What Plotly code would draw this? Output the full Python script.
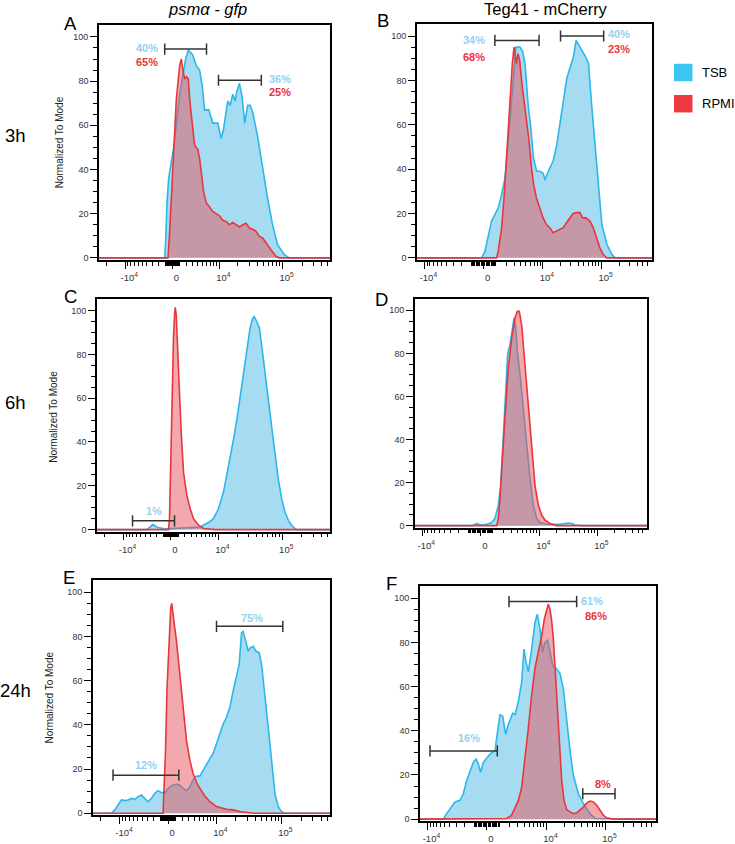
import math
import plotly.graph_objects as go

# ---------------------------------------------------------------------------
# DATA  (x = display channel of the biexponential axis, 0..232 across the plot;
#        y = % of mode)
# ---------------------------------------------------------------------------
A_TSB_CH = [0, 66, 67, 68.3, 70, 72, 75, 78, 81, 84, 87, 89.7, 91.7, 94, 97.7, 101, 103.7, 106,
            110.3, 114.3, 119.3, 122.7, 125, 129.3, 131.7, 134.3, 136.7, 138.3, 141, 143.7, 146.3,
            149.3, 151.7, 154.3, 159.3, 164.3, 169.3, 174.3, 179.3, 186, 191, 232]
A_TSB_Y = [0, 0, 8, 25, 36, 42, 50, 62, 74, 82, 90, 94, 93, 92, 87, 85, 78, 67,
           67, 61, 61, 54, 58, 71, 69, 74, 71, 75, 79, 73, 61,
           69, 69, 66, 55, 40, 27, 15, 6, 1.5, 0, 0]
A_RPMI_CH = [0, 69.3, 71, 74.3, 77.7, 81, 82.7, 84.3, 86, 87.7, 89.7, 91, 93.7, 96, 99.3, 101, 102.7,
             105, 107.7, 111, 114.3, 117.7, 121, 124.3, 127.7, 131, 134.3, 137.7, 141, 144.3, 147.7,
             151, 154.3, 157.7, 161, 164.3, 167.7, 172.7, 177.7, 181, 232]
A_RPMI_Y = [0, 0, 12, 39, 72, 87, 90, 85, 81, 82, 81, 72, 60, 51, 49, 45, 39,
            30, 25, 23, 21, 20, 19, 17, 16.5, 15, 16, 15, 14, 15, 15.7,
            13.5, 13, 12, 9.7, 9, 6.7, 3.7, 0.7, 0, 0]

B_TSB_CH = [0, 63.7, 67.1, 70.3, 73.6, 77, 80.3, 83.6, 86.9, 90.1, 93.4, 95.7, 97.7, 101.7, 104.3,
            106.6, 108.3, 109.9, 112.3, 114.9, 118.2, 121.5, 124.7, 126.4, 128.7, 131.3, 134.6, 138,
            141.3, 144.6, 147.9, 151.2, 154.4, 157.1, 159.4, 162.7, 166, 169.3, 172.6, 175.9, 179.2,
            182.5, 187.5, 192.5, 195.7, 232]
B_TSB_Y = [0, 0, 3, 9, 16.6, 19.6, 22.6, 28.7, 36, 53, 72, 87.5, 95, 95, 93,
           87.5, 78, 68, 59, 45, 39, 39, 38, 35, 38, 41, 44, 51,
           60, 71, 81, 86, 90.5, 98, 96, 93.5, 91, 87.5, 68, 50, 30,
           15, 6, 1.5, 0, 0]
B_RPMI_CH = [0, 78.6, 80.2, 81.9, 83.6, 85.9, 88.2, 91.5, 94.1, 95.8, 98.1, 99.7, 101.4, 103.7, 106.3,
             108, 110.3, 112.9, 115.2, 117.9, 121.2, 124.5, 127.8, 131.1, 134.4, 137.7, 141, 144.3,
             147.6, 150.9, 154.2, 157.5, 160.8, 163.5, 166.8, 170.7, 174, 177.3, 180.6, 183.9, 187.2, 232]
B_RPMI_Y = [0, 0, 3, 7.5, 13.6, 27, 45, 68, 87.5, 95, 87.5, 92, 89, 78, 68,
            60, 54, 41, 33, 27, 22.6, 18, 15, 13.6, 11.3, 12, 12.8, 13.6,
            15.8, 18, 20, 20.4, 20.4, 18, 18, 16.6, 13.6, 9, 4.5, 1.5, 0, 0]

C_TSB_CH = [0, 49.7, 53, 55.7, 58, 61.3, 66.2, 69.6, 102.7, 107.7, 110.9, 115.9, 120.9, 125.9, 129.2,
            132.5, 135.8, 139.2, 142.5, 145.7, 149.1, 152.4, 154.7, 156.4, 159, 161.7, 164, 167.3,
            170.6, 173.9, 177.2, 180.5, 183.9, 187.2, 190.5, 193.8, 197.1, 198.8, 232]
C_TSB_Y = [0, 0, 1.2, 2.3, 1.7, 0.8, 0.5, 0.3, 1.2, 2.3, 3.2, 5, 9.5, 17, 24.5,
           32, 41, 50, 60.6, 72.6, 83, 92, 96, 97.4, 95, 92, 84, 71,
           59, 47, 35, 23, 14, 8, 4.2, 2, 0.5, 0, 0]
C_RPMI_CH = [0, 71.2, 72.2, 73.5, 75.2, 76.2, 77.2, 77.9, 78.9, 80.2, 81.9, 83.9, 86.2, 89.5, 92.8,
             96.1, 101.1, 106, 112.6, 117.6, 232]
C_RPMI_Y = [0, 0, 5, 35, 65, 88, 98, 101.5, 98, 86, 65, 44, 26, 15.5, 9.5,
            5, 2, 0.5, 0.2, 0, 0]

D_TSB_CH = [0, 57, 60, 62.3, 65, 71.7, 76.7, 80, 83.3, 85.7, 88.3, 90.7, 92.7, 95, 97.7, 99, 100.7,
            102.3, 105, 108.3, 111.7, 115, 118.3, 121.7, 125, 131.7, 138.3, 145, 150, 153.3, 156.7,
            160, 166.7, 232]
D_TSB_Y = [0, 0, 0.6, 1, 0.3, 0.6, 1.5, 3.4, 9.5, 18.6, 41.5, 64, 80, 84, 93, 96.5, 92,
           81, 70.5, 54, 38.5, 21.7, 9.5, 3.4, 1.5, 0.8, 0.6, 0.6, 1, 1.2, 1,
           0.3, 0, 0]
D_RPMI_CH = [0, 81.7, 83.3, 85, 87.3, 90, 93.3, 96.7, 100, 102.3, 104.3, 106.7, 109, 111.7, 115,
             117.7, 120, 123.3, 126.7, 130, 135, 141.7, 232]
D_RPMI_Y = [0, 0, 3.4, 12.5, 30.8, 52, 73.6, 87, 96.5, 99.5, 99.5, 93, 80, 64.4, 46,
            32.4, 18.6, 9.5, 4.9, 2.6, 1, 0, 0]

E_TSB_CH = [0, 18, 21.3, 24.5, 27.8, 31.1, 34.3, 37.6, 40.9, 44.1, 47.4, 50.7, 53.9, 57.2, 60.5,
            63.7, 67, 70.3, 73.5, 76.8, 81.7, 85, 88.2, 91.5, 94.8, 98, 101.3, 104.6, 107.8, 111.1,
            114.4, 117.6, 120.9, 124.2, 127.4, 130.7, 134, 137.2, 140.5, 143.1, 145.4, 147, 149.6,
            151.9, 154.2, 156.8, 159.4, 162.7, 165, 168.3, 171.5, 174.8, 178.1, 181.3, 184.6, 187.9, 232]
E_TSB_Y = [0, 0, 1.5, 3.7, 6, 5.7, 6, 6.7, 6.3, 7.5, 8.2, 6.7, 5.2, 6.7, 9,
           10.2, 9.3, 9.3, 11.2, 12.4, 13.2, 12.7, 11.2, 10.2, 12, 15, 16.8, 16.8, 19.5, 22.5,
           24.7, 27, 31.4, 35.2, 40.4, 43.4, 48, 55.4, 61.4, 67.4, 81.6, 82.3, 77.8,
           73.4, 75, 75.6, 73.4, 72.6, 67.4, 54, 39, 24, 9, 3, 0.7, 0, 0]
E_RPMI_CH = [0, 68.6, 69.6, 70.9, 72.5, 74.5, 76.1, 77.1, 78.4, 80, 81.7, 85, 88.2, 91.5, 94.8, 98,
             101.3, 104.6, 109.5, 114.4, 120.9, 130.7, 137.2, 143.8, 153.5, 156.8, 232]
E_RPMI_Y = [0, 0, 12, 27, 57, 79, 93, 95, 91, 84, 78, 62, 46, 33, 24, 18,
            14, 11.2, 7.8, 5.2, 3, 1.8, 1.5, 0.7, 0.2, 0, 0]

F_TSB_CH = [0, 22.9, 26.2, 31.1, 34.4, 39.3, 42.6, 45.9, 49.2, 52.4, 55, 57.3, 59.6, 62.3, 64.9,
            68.8, 73.7, 76, 78.6, 81.3, 84.2, 86.8, 91.1, 93.4, 96.7, 100, 102.2, 104.2, 106.5, 109.8,
            113, 115.3, 118, 120.6, 122.9, 125.5, 127.8, 130.4, 134.3, 137.6, 140.9, 144.2, 147.5,
            150.7, 155.7, 160.6, 167.1, 172, 232]
F_TSB_Y = [0, 0, 2.5, 5.5, 7.8, 8.5, 11.5, 17.5, 22, 25.7, 27.2, 25, 21.2, 25.7, 27.2,
           29.4, 31, 38.4, 47.3, 46.6, 38.4, 42.8, 48, 47.3, 53.3, 62, 77, 71.2, 66.7, 77,
           89, 92.8, 86, 75.7, 80, 81, 75.7, 69.7, 68, 66, 59, 44, 31,
           20, 11.5, 7, 2.5, 0.3, 0]
F_RPMI_CH = [0, 75.4, 78.6, 85.2, 90.1, 93.4, 96.7, 100, 103.2, 106.5, 109.8, 113, 116.3, 119.6,
             122.2, 124.5, 126.1, 127.8, 129.4, 131.1, 132.7, 134.3, 136, 137.6, 139.3, 141.6, 144.2,
             147.5, 150.7, 154, 157.3, 160.6, 163.8, 167.1, 170.4, 173.7, 177, 180.2, 183.5, 190, 232]
F_RPMI_Y = [0, 0, 0, 0.3, 1.8, 4.8, 8.5, 14.5, 26.4, 41.3, 56.3, 68.2, 75.7, 83,
            90.6, 95, 97.3, 95, 90, 81.6, 69.7, 56.3, 41.3, 29.4, 17.5, 8.5, 4.3,
            3.3, 2.5, 2.8, 4, 5.5, 7.3, 8.2, 7.8, 6.3, 4, 1.8, 0.6, 0, 0]

# gates: (channel start, channel end, bar height in % of mode)
A_GATES = [(66, 108, 94.5), (120, 163, 80.4)]
B_GATES = [(76.9, 120.5, 98), (141.7, 184.3, 100)]
C_GATES = [(35.4, 77.2, 4)]
D_GATES = []
E_GATES = [(120.9, 185.8, 84.6), (19.6, 84, 17.2)]
F_GATES = [(87.5, 154, 98.5), (9.8, 76, 30.9), (160, 191.7, 11.5)]

# gate percentages: (text, series, channel, % of mode)
A_PCT = [("40%", "TSB", 48, 95.2), ("65%", "RPMI", 48, 88.5),
         ("36%", "TSB", 182, 80.8), ("25%", "RPMI", 182, 75)]
B_PCT = [("34%", "TSB", 56.4, 98), ("68%", "RPMI", 56.4, 90.5),
         ("40%", "TSB", 199, 100.8), ("23%", "RPMI", 199, 94)]
C_PCT = [("1%", "TSB", 57, 8.7)]
D_PCT = []
E_PCT = [("75%", "TSB", 155.2, 88.3), ("12%", "TSB", 51.6, 21.7)]
F_PCT = [("61%", "TSB", 168.8, 98.8), ("86%", "RPMI", 173, 91.8),
         ("16%", "TSB", 48.5, 36.6), ("8%", "RPMI", 180.2, 16)]

X_MAJOR = [-1e4, 0, 1e4, 1e5]
X_MAJOR_TEXT = ["-10<sup>4</sup>", "0", "10<sup>4</sup>", "10<sup>5</sup>"]
Y_MAJOR = [0, 20, 40, 60, 80, 100]

SERIES = ["TSB", "RPMI"]
COLUMN_TITLES = ["<i>psm\u03b1 - gfp</i>", "Teg41 - mCherry"]
ROW_LABELS = ["3h", "6h", "24h"]
PANEL_LETTERS = ["A", "B", "C", "D", "E", "F"]

# ---------------------------------------------------------------------------
# STYLE / LAYOUT
# ---------------------------------------------------------------------------
FW, FH = 735, 844
FONT = "Liberation Sans, Arial, Helvetica, sans-serif"
LINE_COL = {"TSB": "#2bb7ea", "RPMI": "#e8363c"}
FILL_COL = {"TSB": "rgb(166,220,242)", "RPMI": "rgba(229,81,89,0.5)"}
PCT_COL = {"TSB": "#93d2ef", "RPMI": "#e8343b"}
LEGEND_COL = {"TSB": "#3ec6f2", "RPMI": "#ee3a3f"}
X_RANGE = [0, 232]
Y_RANGE = [-0.9, 105.5]

# biexponential display parameters per column (zero channel, slope, linear width)
BIEX = [(73.6, 28.05, 3846.0), (65.8, 25.3, 2000.0)]

# panel frames in pixels: left, right, top, bottom
FRAMES = [(99, 330, 25, 262), (417, 652, 24, 262),
          (97, 330, 301, 536), (415, 647, 301, 532),
          (93, 330, 585, 822), (420, 656, 591, 828)]

PANELS = [
    (A_TSB_CH, A_TSB_Y, A_RPMI_CH, A_RPMI_Y, A_GATES, A_PCT),
    (B_TSB_CH, B_TSB_Y, B_RPMI_CH, B_RPMI_Y, B_GATES, B_PCT),
    (C_TSB_CH, C_TSB_Y, C_RPMI_CH, C_RPMI_Y, C_GATES, C_PCT),
    (D_TSB_CH, D_TSB_Y, D_RPMI_CH, D_RPMI_Y, D_GATES, D_PCT),
    (E_TSB_CH, E_TSB_Y, E_RPMI_CH, E_RPMI_Y, E_GATES, E_PCT),
    (F_TSB_CH, F_TSB_Y, F_RPMI_CH, F_RPMI_Y, F_GATES, F_PCT),
]


def px(x):
    return x / FW


def py(y):
    return 1 - y / FH


def biex(v, col):
    z, s, c = BIEX[col]
    return z + s * math.asinh(v / c)


def minor_values(col):
    vals = []
    for n in (2, 3, 4, 5):
        for k in range(1, 10):
            for sign in (1, -1):
                v = sign * k * 10 ** n
                if v in X_MAJOR:
                    continue
                ch = biex(v, col)
                if X_RANGE[0] + 0.5 < ch < X_RANGE[1] - 0.5:
                    vals.append(ch)
    return sorted(vals)


fig = go.Figure()
annotations = []
shapes = []

for i, (tx, ty, rx, ry, gates, pcts) in enumerate(PANELS):
    col = i % 2
    n = "" if i == 0 else str(i + 1)
    xa, ya = "x" + n, "y" + n
    assert len(tx) == len(ty) and len(rx) == len(ry)
    for name, xs, ys in (("TSB", tx, ty), ("RPMI", rx, ry)):
        fig.add_trace(go.Scatter(
            x=xs, y=ys, mode="lines", name=name, showlegend=False,
            fill="tozeroy", fillcolor=FILL_COL[name],
            line=dict(color=LINE_COL[name], width=1.6),
            xaxis=xa, yaxis=ya, hoverinfo="skip"))
    for (g0, g1, gy) in gates:
        fig.add_trace(go.Scatter(
            x=[g0, g1], y=[gy, gy], mode="lines+markers", showlegend=False,
            line=dict(color="#333333", width=1.5),
            marker=dict(symbol="line-ns-open", size=8,
                        line=dict(color="#333333", width=1.5)),
            xaxis=xa, yaxis=ya, hoverinfo="skip"))
    for (txt, ser, cx, cy) in pcts:
        annotations.append(dict(
            text="<b>%s</b>" % txt, x=cx, y=cy, xref=xa, yref=ya,
            showarrow=False, font=dict(family=FONT, size=11, color=PCT_COL[ser]),
            xanchor="center", yanchor="middle"))

    l, r, t, b = FRAMES[i]
    fig.layout["xaxis" + n] = dict(
        domain=[px(l), px(r)], anchor=ya, range=X_RANGE,
        tickmode="array", tickvals=[biex(v, col) for v in X_MAJOR],
        ticktext=X_MAJOR_TEXT, ticks="outside", ticklen=7, tickwidth=1.3,
        tickcolor="black", ticklabelshift=4, ticklabelstandoff=1,
        tickfont=dict(family=FONT, size=9.5, color="#333333"),
        minor=dict(tickmode="array", tickvals=minor_values(col), ticks="outside",
                   ticklen=4, tickwidth=1.1, tickcolor="black"),
        showline=True, linecolor="black", linewidth=1.6, mirror=True,
        showgrid=False, zeroline=False, fixedrange=True)
    fig.layout["yaxis" + n] = dict(
        domain=[py(b), py(t)], anchor=xa, range=Y_RANGE,
        tickmode="array", tickvals=Y_MAJOR, ticks="outside", ticklen=7,
        tickwidth=1.3, tickcolor="black",
        tickfont=dict(family=FONT, size=9, color="#333333"),
        minor=dict(tickmode="array", tickvals=[v for v in range(5, 100, 5) if v % 20],
                   ticks="outside", ticklen=4, tickwidth=1.1, tickcolor="black"),
        showline=True, linecolor="black", linewidth=1.6, mirror=True,
        showgrid=False, zeroline=False, fixedrange=True)

# column titles
for txt, cx in zip(COLUMN_TITLES, (207, 545.5)):
    annotations.append(dict(text=txt, x=px(cx), y=py(9.5), xref="paper", yref="paper",
                            showarrow=False, font=dict(family=FONT, size=16.5, color="black"),
                            xanchor="center", yanchor="middle"))
# row labels
for txt, cy in zip(ROW_LABELS, (137, 406, 696)):
    annotations.append(dict(text=txt, x=px(16), y=py(cy), xref="paper", yref="paper",
                            showarrow=False, font=dict(family=FONT, size=18.5, color="black"),
                            xanchor="center", yanchor="middle"))
# panel letters
for txt, (cx, cy) in zip(PANEL_LETTERS, [(70, 23.5), (383, 21), (70.3, 298.5),
                                         (381.5, 302), (69, 582.5), (391.3, 588.5)]):
    annotations.append(dict(text=txt, x=px(cx), y=py(cy), xref="paper", yref="paper",
                            showarrow=False, font=dict(family=FONT, size=18.5, color="black"),
                            xanchor="center", yanchor="middle"))
# y axis titles (left column)
for cx, cy in [(59, 143.5), (53.3, 420), (49.3, 703)]:
    annotations.append(dict(text="Normalized To Mode", x=px(cx), y=py(cy), xref="paper",
                            yref="paper", showarrow=False, textangle=-90,
                            font=dict(family=FONT, size=10, color="#222222"),
                            xanchor="center", yanchor="middle"))
# legend
for k, ser in enumerate(SERIES):
    top = 64.3 + k * 31.5
    shapes.append(dict(type="rect", xref="paper", yref="paper",
                       x0=px(674), x1=px(692.5), y0=py(top + 17.6), y1=py(top),
                       fillcolor=LEGEND_COL[ser], line=dict(width=0)))
    annotations.append(dict(text=ser, x=px(699.5), y=py(top + 8.8), xref="paper", yref="paper",
                            showarrow=False, font=dict(family=FONT, size=13, color="black"),
                            xanchor="left", yanchor="middle"))

fig.update_layout(
    width=FW, height=FH, margin=dict(l=0, r=0, t=0, b=0),
    paper_bgcolor="white", plot_bgcolor="white",
    annotations=annotations, shapes=shapes, showlegend=False,
    font=dict(family=FONT),
)

fig.write_html("out.html", config={"displayModeBar": False})
